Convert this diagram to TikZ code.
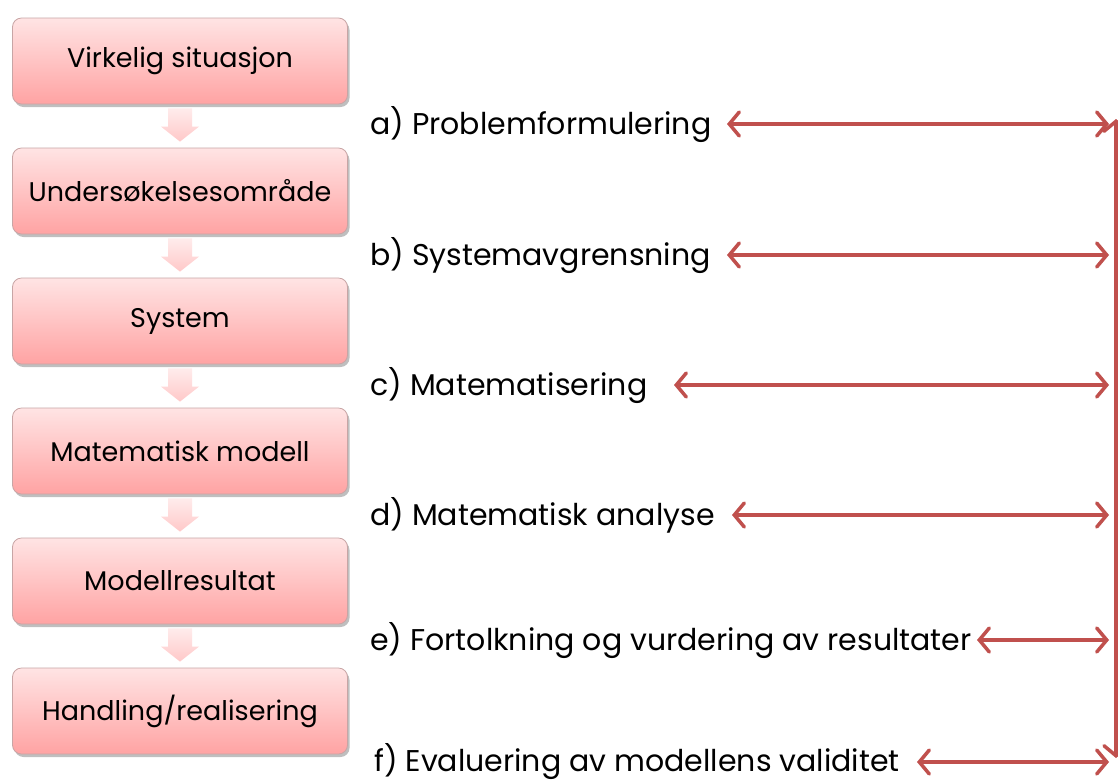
\documentclass[tikz,border=0pt]{standalone}
\usepackage{fontspec}
\setmainfont{Poppins}
\usetikzlibrary{arrows.meta,shadows,calc}
\definecolor{arrred}{RGB}{192,80,77}
\definecolor{boxtop}{RGB}{255,228,228}
\definecolor{boxbot}{RGB}{255,163,163}
\definecolor{boxline}{RGB}{200,165,165}
\definecolor{dtop}{RGB}{255,236,236}
\definecolor{dbot}{RGB}{255,200,200}
\tikzset{
  stepbox/.style={rounded corners=9pt, minimum width=335pt, minimum height=86pt,
    top color=boxtop, bottom color=boxbot, draw=boxline, line width=0.8pt,
    drop shadow={shadow xshift=2pt, shadow yshift=-3pt, fill=black, opacity=0.25},
    font=\fontsize{27}{31}\selectfont, inner sep=0pt},
  lbl/.style={anchor=base west, inner sep=0pt, font=\fontsize{30}{34}\selectfont},
  dblarr/.style={draw=arrred, line width=3.5pt,
    {Straight Barb[length=10pt,width=24pt,line cap=round]}-{Straight Barb[length=10pt,width=24pt,line cap=round]}},
  downarr/.style={top color=dtop, bottom color=dbot, draw=none}
}
\begin{document}
\begin{tikzpicture}[x=1pt,y=-1pt]
\useasboundingbox (0,0) rectangle (1118,780);
\fill[white] (0,0) rectangle (1118,780);
% boxes
\node[stepbox] (b1) at (180,61) {Virkelig situasjon};
\node[stepbox] (b2) at (180,191) {Undersøkelsesområde};
\node[stepbox] (b3) at (180,321) {System};
\node[stepbox] (b4) at (180,451) {Matematisk modell};
\node[stepbox] (b5) at (180,581) {Modellresultat};
\node[stepbox] (b6) at (180,711) {Handling/realisering};
% down block arrows
\foreach \a/\b in {b1/b2,b2/b3,b3/b4,b4/b5,b5/b6}{
  \path[downarr] ($(\a.south)+(-12,4)$) -- ($(\a.south)+(12,4)$) -- ($(\b.north)+(12,-21)$)
    -- ($(\b.north)+(19,-21)$) -- ($(\b.north)+(0,-6)$) -- ($(\b.north)+(-19,-21)$)
    -- ($(\b.north)+(-12,-21)$) -- cycle;
}
% labels
\node[lbl] (la) at (370,134) {a) Problemformulering};
\node[lbl] (lb) at (370,265) {b) Systemavgrensning};
\node[lbl] (lc) at (370,395) {c) Matematisering};
\node[lbl] (ld) at (370,525) {d) Matematisk analyse};
\node[lbl] (le) at (370,650) {e) Fortolkning og vurdering av resultater};
\node[lbl] (lf) at (374,771) {f) Evaluering av modellens validitet};
% arrow ends
\coordinate (a1) at (727,124); \coordinate (a2) at (1109,124);
\coordinate (b1a) at (727,255); \coordinate (b2a) at (1109,255);
\coordinate (c1) at (674,385); \coordinate (c2) at (1109,385);
\coordinate (d1) at (732,515); \coordinate (d2) at (1109,515);
\coordinate (e1) at (977,640); \coordinate (e2) at (1109,640);
\coordinate (f1) at (917,762); \coordinate (f2) at (1109,762);
\coordinate (vt) at (1116,119); \coordinate (vb) at (1116,758);
\draw[dblarr] (a1) -- (a2);
\draw[dblarr] (b1a) -- (b2a);
\draw[dblarr] (c1) -- (c2);
\draw[dblarr] (d1) -- (d2);
\draw[dblarr] (e1) -- (e2);
\draw[dblarr] (f1) -- (f2);
\draw[dblarr] (vb) -- (vt);
\end{tikzpicture}
\end{document}
